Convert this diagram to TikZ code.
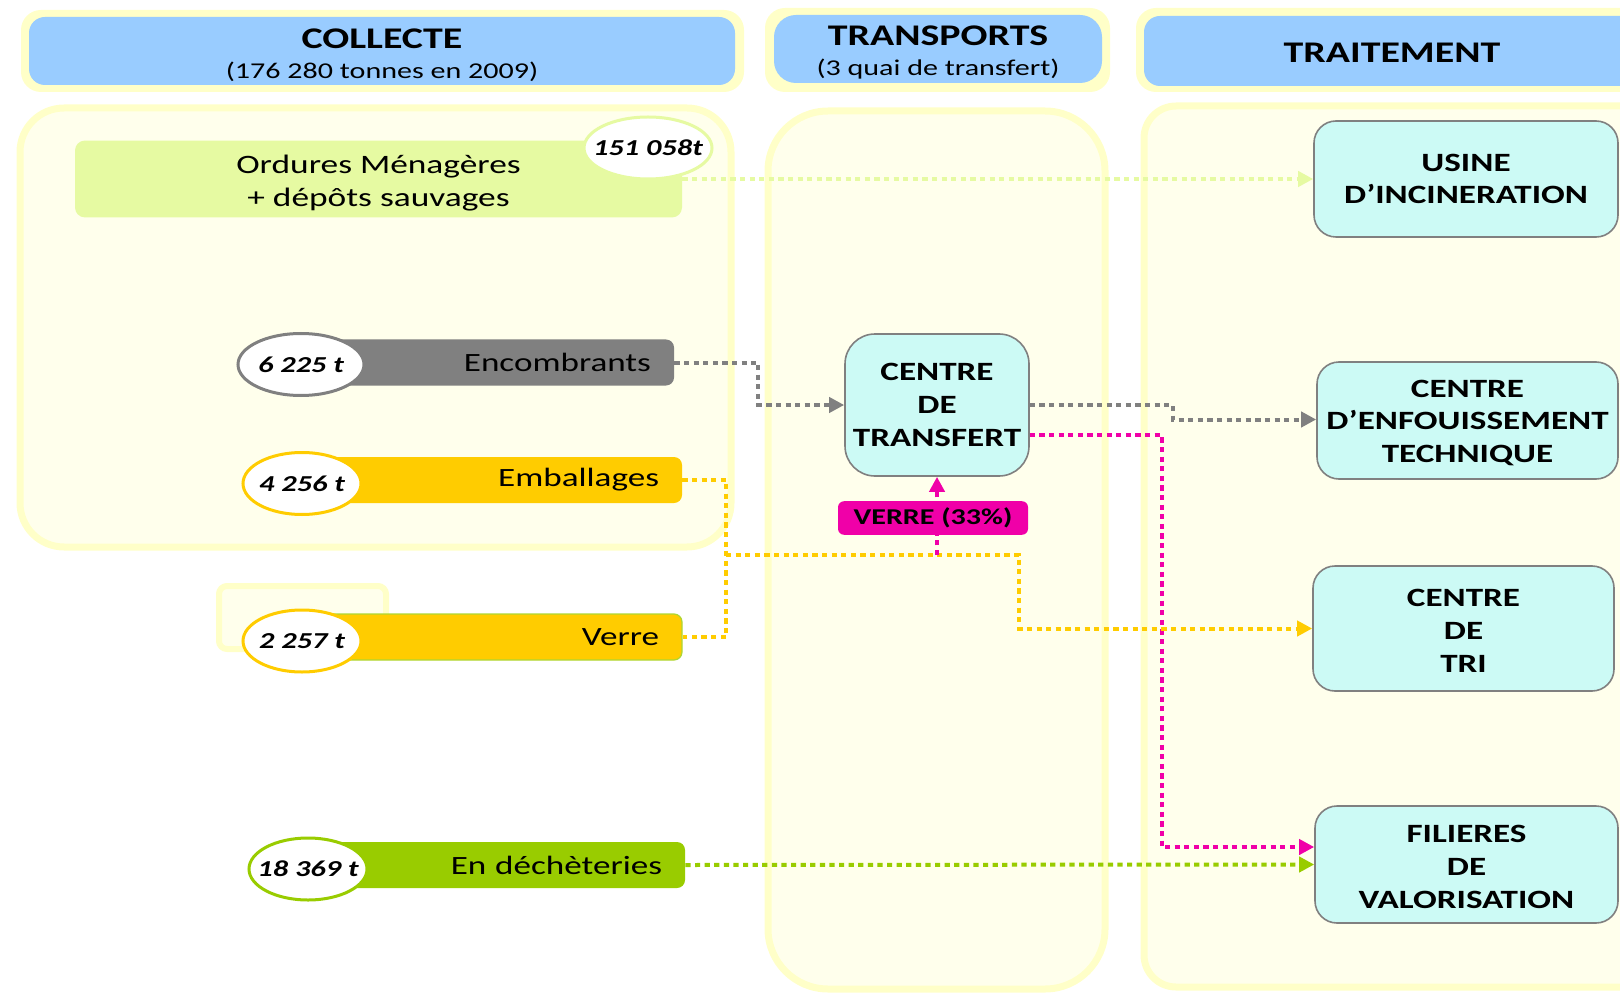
\documentclass[tikz,border=0pt]{standalone}
\usepackage{fontspec}
\setmainfont{Carlito}[FakeStretch=1.33]
\usetikzlibrary{arrows.meta,shapes.geometric}
\definecolor{bleuentete}{RGB}{153,204,255}
\definecolor{jaunepale}{RGB}{255,255,200}
\definecolor{fondpanneau}{RGB}{255,255,236}
\definecolor{vertpale}{RGB}{230,250,162}
\definecolor{cyanboite}{RGB}{204,250,245}
\definecolor{gris}{RGB}{128,128,128}
\definecolor{jaune}{RGB}{255,204,0}
\definecolor{vert}{RGB}{153,204,0}
\definecolor{rose}{RGB}{240,0,168}
\begin{document}
\begin{tikzpicture}[x=0.5pt,y=-0.5pt,
        panneau/.style={draw=jaunepale,line width=3.5pt,fill=fondpanneau},
        halo/.style={fill=jaunepale,rounded corners=10pt},
        entete/.style={rectangle,fill=bleuentete,rounded corners=8pt,align=center,inner ysep=0pt},
        barre/.style={rectangle,rounded corners=4pt,minimum height=23pt,text width=168pt,inner xsep=11.5pt,align=right,font=\fontsize{13.2}{15}\selectfont},
        poids/.style={ellipse,fill=white,line width=1.5pt,inner sep=0pt,minimum width=59pt,minimum height=31pt,font=\bfseries\itshape\fontsize{11.4}{14}\selectfont},
        boite/.style={rectangle,rounded corners=11pt,draw=gris,line width=0.8pt,fill=cyanboite,align=center,font=\bfseries\fontsize{13.2}{16.3}\selectfont},
        pointille/.style={line width=2pt,dash pattern=on 2.6pt off 2.2pt},
        flux/.style={pointille,-{Triangle[length=7.5pt,width=7.5pt]}}]
    \useasboundingbox (0,0) rectangle (1620,994);
    \clip (0,0) rectangle (1620,994);
    % colonnes
    \draw[panneau,rounded corners=22pt] (20,108) rectangle (731,547);
    \draw[panneau,rounded corners=30pt] (768,111) rectangle (1105,989);
    \draw[panneau,rounded corners=16pt] (1144,106) rectangle (1680,987);
    \draw[draw=jaunepale,line width=3pt,fill=fondpanneau,rounded corners=4pt] (219,586) rectangle (386,649);
    % en-tetes
    \fill[halo] (21,10) rectangle (744,92);
    \fill[halo] (765,8) rectangle (1110,92);
    \fill[halo] (1136,8) rectangle (1680,92);
    \node[entete,minimum width=353pt,minimum height=34pt] (tcollecte) at (382,51)
        {{\bfseries\fontsize{15}{16}\selectfont\rule{0pt}{13.7pt}COLLECTE}\\[3pt]{\fontsize{11.3}{13}\selectfont (176 280 tonnes en 2009)}};
    \node[entete,minimum width=164pt,minimum height=34pt,rounded corners=11pt] (ttransports) at (938,49)
        {{\bfseries\fontsize{15}{16}\selectfont\rule{0pt}{13.7pt}TRANSPORTS}\\[3pt]{\fontsize{11.3}{13}\selectfont (3 quai de transfert)}};
    \node[entete,minimum width=248pt,minimum height=35pt] (ttraitement) at (1392,51)
        {\bfseries\fontsize{15}{16}\selectfont\rule{0pt}{11.7pt}TRAITEMENT};
    % collecte
    \node[rectangle,rounded corners=5pt,fill=vertpale,minimum width=303.5pt,minimum height=37pt,align=center,font=\fontsize{13.3}{16.5}\selectfont] (ordures) at (378.5,179) {\rule{0pt}{13pt}Ordures Ménagères\\+ dépôts sauvages};
    \node[barre,fill=gris,text width=164pt] (encomb) at (487,362.5) {Encombrants};
    \node[barre,fill=jaune] (emball) at (491,480) {Emballages};
    \node[barre,fill=jaune,draw=vert!80,line width=0.6pt] (verre) at (491,637) {Verre};
    \node[barre,fill=vert,text width=167pt] (dech) at (495,865) {En déchèteries};
    % traitement
    \node[boite,minimum width=152pt,minimum height=58pt] (usine) at (1466,179) {USINE\\D’INCINERATION};
    \node[boite,minimum width=92pt,minimum height=71pt,rounded corners=15pt] (cdt) at (937,405) {CENTRE\\DE\\TRANSFERT};
    \node[boite,minimum width=150.5pt,minimum height=58.5pt] (cet) at (1467.5,420.5) {\rule{0pt}{11pt}CENTRE\\D’ENFOUISSEMENT\\TECHNIQUE};
    \node[boite,minimum width=150.5pt,minimum height=62.5pt] (tri) at (1463.5,628.5) {\rule{0pt}{11pt}CENTRE\\DE\\TRI};
    \node[boite,minimum width=151.5pt,minimum height=58.5pt] (fil) at (1466.5,864.5) {\rule{0pt}{11pt}FILIERES\\DE\\VALORISATION};
    % flux
    \coordinate (jonc) at (726,555);
    \draw[flux,vertpale] (ordures.east) -- (usine.west);
    \draw[flux,gris] (encomb.east) -- ++(84,0) |- (cdt.west);
    \draw[flux,gris] (cdt.east) -- ++(143,0) |- ([yshift=0.5pt]cet.west);
    \draw[flux,rose] ([yshift=-15pt]cdt.east) -- ++(132,0) |- ([yshift=8.75pt]fil.west);
    \draw[pointille,jaune] (emball.east) -- ++(44,0) |- (verre.east);
    \draw[flux,jaune] (jonc) -- ++(293,0) |- (tri.west);
    \draw[flux,rose] (cdt.south |- jonc) -- (cdt.south);
    \draw[flux,vert] (dech.east) -- (fil.west);
    \node[rectangle,rounded corners=3pt,fill=rose,minimum width=95pt,minimum height=16pt,font=\bfseries\fontsize{11.3}{12}\selectfont] (verre33) at (933,518) {VERRE (33\%)};
    % tonnages
    \node[poids,draw=vertpale,minimum width=64pt] (t1) at (648,148) {\makebox[0pt]{151 058t}};
    \node[poids,draw=gris,minimum width=63pt] (t2) at (301,364.5) {\makebox[0pt]{6 225 t}};
    \node[poids,draw=jaune] (t3) at (302,483.5) {\makebox[0pt]{4 256 t}};
    \node[poids,draw=jaune] (t4) at (302,641) {\makebox[0pt]{2 257 t}};
    \node[poids,draw=vert] (t5) at (308,869) {\makebox[0pt]{18 369 t}};
\end{tikzpicture}
\end{document}
